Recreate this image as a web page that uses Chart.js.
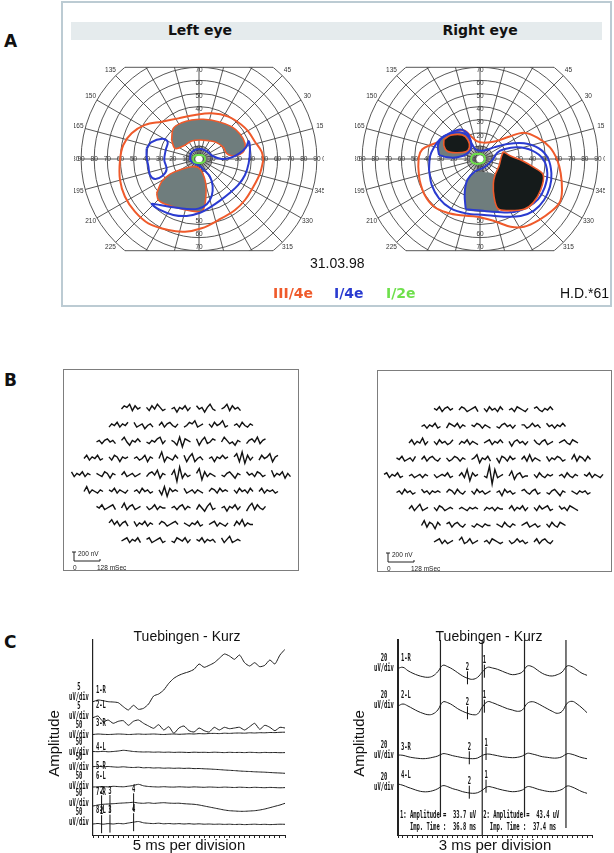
<!DOCTYPE html>
<html>
<head>
<meta charset="utf-8">
<script src="https://cdn.jsdelivr.net/npm/chart.js"></script>
<style>
  html, body { margin: 0; padding: 0; background: #fff; }
  body { position: relative; width: 614px; height: 853px; overflow: hidden; font-family: "Liberation Sans", Arial, sans-serif; color: #111; }
  canvas { position: absolute; }
  .letter { position: absolute; left: 4px; font: bold 17px "DejaVu Sans", sans-serif; }
  #boxA { position: absolute; left: 61px; top: 1px; width: 551px; height: 306px; border: 2px solid #bccbd3; box-sizing: border-box; }
  .bar { position: absolute; left: 71px; top: 22px; width: 531px; height: 18px; background: #e5ebed; }
  .eye { position: absolute; top: 22px; width: 160px; height: 18px; line-height: 18px; text-align: center; font: bold 14px "DejaVu Sans", sans-serif; }
  .txt { position: absolute; font-size: 14px; line-height: 16px; white-space: nowrap; }
  .leg { position: absolute; top: 285px; font: bold 14px "DejaVu Sans", sans-serif; line-height: 16px; }
  .mfbox { position: absolute; border: 1px solid #7d7d7d; box-sizing: border-box; }
</style>
</head>
<body>

<div class="letter" style="top:31px">A</div>
<div id="boxA"></div>
<div class="bar"></div>
<div class="eye" style="left:120px">Left eye</div>
<div class="eye" style="left:400px">Right eye</div>
<canvas id="fieldLeft" width="250" height="210" style="left:74px;top:54px"></canvas>
<canvas id="fieldRight" width="250" height="210" style="left:355px;top:54px"></canvas>
<div class="txt" style="left:310px;top:255px">31.03.98</div>
<div class="leg" style="left:273px;color:#ef5a2b">III/4e</div>
<div class="leg" style="left:334px;color:#2a3bd0">I/4e</div>
<div class="leg" style="left:386px;color:#6ee04c">I/2e</div>
<div class="txt" style="left:560px;top:285px">H.D.*61</div>

<div class="letter" style="top:370px">B</div>
<canvas id="mfLeft" width="236" height="202" style="left:63px;top:369px"></canvas>
<canvas id="mfRight" width="235" height="202" style="left:377px;top:370px"></canvas>
<div class="mfbox" style="left:63px;top:369px;width:236px;height:202px"></div>
<div class="mfbox" style="left:377px;top:370px;width:235px;height:202px"></div>

<div class="letter" style="top:632px">C</div>
<canvas id="ergLeft" width="300" height="225" style="left:0px;top:628px"></canvas>
<canvas id="ergRight" width="314" height="225" style="left:300px;top:628px"></canvas>

<script>
// ---- A: Goldmann fields, points in degrees (x horizontal, y vertical) ----
const leftIII4e = [[49.1,-0.8],[47.8,5.6],[42.7,13.2],[37.7,20.9],[32.6,26],[22.4,32.3],[9.7,34.9],[-3.1,33.6],
  [-15.8,31],[-28.5,28.5],[-41.2,26],[-51.4,19.6],[-57.8,10.7],[-60.3,-0.8],[-60.3,-16],[-56.5,-28.8],
  [-48.9,-40.2],[-38.7,-49.1],[-23.4,-54.2],[-10.7,-55.5],[2,-52.9],[14.8,-46.6],[27.5,-38.9],[35.1,-31.3],
  [41.5,-21.1],[46.6,-10.9]];
const leftI4eTemporal = [[-40,8.1],[-36.6,12.7],[-28,15.5],[-23.9,13],[-25.4,6.9],[-26.5,-0.8],[-24.7,-7.9],
  [-28,-13],[-33.6,-15.3],[-37.4,-12.2],[-38.7,-5.3],[-40,1.8]];
const leftI4eRing = [[-6.9,-0.8],[-6.4,3.8],[-3.1,6.9],[1.5,7.6],[5.9,5.9],[10.4,2.3],[17.3,0],[24.2,1],
  [30.8,4.3],[35.9,8.9],[37.9,13.7],[38.9,6.9],[37.9,-3.3],[35.1,-12.2],[30,-19.8],[23.2,-26.2],[16,-31.8],
  [8.4,-36.9],[0.8,-41],[-9.4,-43.5],[-19.6,-42.7],[-29.8,-38.9],[-36.1,-34.4],[-29.8,-35.1],[-19.6,-36.9],
  [-9.4,-38.2],[-0.5,-37.9],[5.9,-34.6],[9.7,-28.2],[10.4,-20.6],[8.4,-13.5],[3.8,-8.4],[0.3,-5.1],[-4.3,-2.8]];
const leftI2e = [[-4.7,0],[-3.5,2.4],[0,3.1],[3.5,2.4],[4.7,0],[3.5,-2.4],[0,-3.1],[-3.5,-2.4]];
const leftScotomaUpper = [[-20.9,14.5],[-19.6,23.4],[-13.2,27.7],[-5.6,29.8],[3.3,30.3],[14.8,28.5],[24.9,24.7],
  [31.3,19.1],[35.1,12],[34.4,6.4],[31.3,3.6],[24.9,2.5],[21.1,4.3],[18.6,8.9],[13.5,12.5],[7.1,14],
  [0.8,14.5],[-5.6,13.7],[-12,9.9],[-18.3,8.1]];
const leftScotomaLower = [[-32.3,-26.2],[-28.5,-17.3],[-22.1,-11.5],[-13.2,-7.9],[-5.6,-5.9],[-0.5,-6.6],
  [2.8,-10.9],[5.1,-18.6],[5.3,-27.5],[4.1,-36.4],[1.5,-40.2],[-6.9,-39.4],[-17,-37.2],[-26,-34.4],[-31,-31.3]];

const rightIII4e = [[-47.1,-5.9],[-46.6,1.8],[-44,7.4],[-37.7,10.7],[-30,13.7],[-23.7,17.6],[-17.3,21.4],
  [-11.7,21.6],[-7.1,17.6],[-2.5,13.7],[3.1,12.5],[12,13.5],[22.1,17],[33.6,20.1],[43.8,16.3],[53.4,8.9],
  [59,-0.8],[61.6,-10.9],[62.6,-23.7],[61.1,-32.6],[55.2,-39.4],[45,-46.6],[33.6,-51.7],[23.4,-51.7],
  [10.7,-47.3],[-2,-44],[-14.8,-43],[-24.9,-41],[-35.1,-36.4],[-42.2,-27.5],[-46.1,-16]];
const rightI4eOuter = [[-38.9,-8.4],[-38.2,1.8],[-35.1,8.9],[-30.5,15],[-22.4,20.1],[-14.8,22.6],[-9.2,19.1],
  [-6.6,12.5],[-3.3,7.4],[3.1,6.4],[10.7,8.9],[20.9,11.5],[33.6,12],[45,8.1],[51.9,0.5],[54.5,-10.9],
  [53.4,-21.1],[48.9,-31.3],[41.2,-39.4],[31,-43.5],[18.3,-44],[3.1,-42.7],[-10.9,-41.5],[-22.4,-37.7],
  [-31.3,-30],[-36.9,-19.8]];
const rightI4eInnerA = [[-31.3,3.1],[-32.1,10.7],[-28.8,16.5],[-21.1,19.6],[-13.5,20.1],[-8.4,16.5],
  [-6.6,9.9],[-9.7,4.3],[-17.3,1.3],[-24.9,1.3]];
const rightI4eInnerB = [[-10.9,-38.4],[-11.7,-26.2],[-9.7,-16],[-4.1,-9.7],[3.1,-6.4],[9.4,-0.8],[13.2,4.8],
  [18.3,7.4],[28.5,8.9],[39.9,6.4],[48.3,-0.3],[51.4,-10.9],[49.4,-21.6],[44.3,-30.8],[36.1,-36.9],
  [26,-40.5],[13.2,-40.5],[0.5,-39.4]];
const rightRelative = [[-10.9,-39.2],[-11.7,-26.2],[-9.7,-16],[-4.1,-10.4],[3.1,-9.9],[11.5,-12.2],
  [10.2,-18.6],[10.7,-28.8],[13.7,-37.9],[14.5,-40.5],[0.5,-39.9]];
const rightScotomaSmall = [[-27.5,15],[-22.4,18.1],[-13.5,18.3],[-9.2,14.5],[-8.1,8.9],[-10.9,5.6],
  [-18.6,4.8],[-24.9,5.9],[-27.5,9.9]];
const rightScotomaLarge = [[17.8,5.6],[23.4,2.3],[32.3,-1.3],[41.2,-6.4],[48.3,-12.2],[46.3,-23.7],
  [40.7,-33.3],[33.6,-38.4],[20.9,-39.4],[13.7,-37.9],[10.7,-28.8],[10.2,-18.6],[11.5,-12.2],[14.5,-5.3],[16.3,1.8]];
const rightI2e = [[-7,0],[-5.5,3],[-2,3.8],[2,3.5],[3.6,1.5],[3.5,-1.5],[1,-3.2],[-3,-3.7],[-6,-2.5]];

const ringDegrees = [10, 20, 30, 40, 50, 60, 70, 80, 90];
const meridianStep = 15;
const angleLabels = [0, 15, 30, 45, 135, 150, 165, 180, 195, 210, 225, 315, 330, 345];
const verticalLimit = 70;

// ---- B: multifocal ERG traces, rows of the hexagon array (top to bottom) ----
const mfLeft = [
  [[0,2,1,3,-1,2,0,1],[1,-1,2,0,3,1,-1,0],[0,1,-2,1,0,2,-1,1],[2,0,1,-2,1,3,0,-1],[0,1,3,-1,2,0,1,-1]],
  [[-1,1,0,2,-1,1,0,2],[2,-1,0,1,-2,0,1,-1],[0,2,-1,1,2,0,-1,1],[-1,0,2,1,3,-1,0,1],[1,-1,2,0,1,3,-1,0],[0,1,-1,2,0,-1,1,0]],
  [[0,1,-1,1,2,0,1,-1],[1,3,0,-2,1,0,2,0],[0,-1,1,0,2,3,-1,1],[1,0,-2,3,-3,2,1,0],[2,-2,1,3,-1,0,2,1],[0,3,1,-1,0,-2,1,0],[-1,1,2,0,3,-1,1,2]],
  [[0,2,-1,1,0,2,-1,0],[1,-1,2,1,-2,1,0,1],[0,1,-1,0,2,-2,1,0],[0,4,-2,1,0,-1,2,0],[2,-2,1,3,-2,0,1,-1],[0,1,-2,1,0,2,0,1],[1,3,-2,4,-3,2,-1,1],[-1,2,0,1,3,-2,1,2]],
  [[2,-1,1,0,2,-1,1,0],[1,0,-1,2,1,-2,1,0],[0,2,-1,0,1,-1,0,1],[-1,1,2,0,3,-2,1,0],[0,3,-4,5,-2,1,-1,0],[1,4,-3,2,-1,1,0,-1],[0,-1,1,2,0,-2,1,0],[2,0,1,-1,2,1,-1,0],[3,-1,1,0,2,-2,1,-1]],
  [[0,3,-1,1,0,-1,1,0],[1,0,2,-1,1,0,-1,1],[0,1,-1,2,0,1,-1,0],[1,-2,3,-3,2,0,1,0],[2,-1,0,1,-1,1,0,-1],[0,2,1,-1,2,0,1,0],[1,-1,2,0,1,-1,2,0],[0,2,-1,1,0,1,-1,0]],
  [[1,0,2,-1,0,1,2,-1],[0,3,-1,1,2,-1,0,1],[1,-1,0,2,-1,1,0,0],[0,1,-1,1,2,-1,1,0],[-1,2,0,-2,1,3,-1,0],[0,1,-2,1,0,2,-1,1],[-2,1,3,-1,2,0,-1,1]],
  [[1,3,0,2,-1,1,2,-1],[2,-1,1,0,2,-1,1,0],[0,2,1,-1,0,1,2,0],[1,0,-1,1,0,2,-1,0],[0,1,2,-1,1,0,-1,1],[-1,2,0,3,-1,1,0,0]],
  [[0,1,2,-1,1,0,2,-1],[1,2,-1,0,1,2,-1,0],[0,-1,2,1,0,2,-1,1],[1,0,2,-1,1,0,1,-1],[2,-1,1,3,-1,0,1,0]]
];
const mfRight = [
  [[1,0,2,-1,1,2,0,1],[0,2,1,-1,0,1,2,-1],[1,-1,2,0,1,-1,2,0],[0,1,-1,2,1,0,-1,1],[1,2,0,-1,1,0,2,0]],
  [[0,1,-1,1,0,2,-1,0],[-1,2,1,0,2,-1,1,0],[1,0,2,1,-1,1,0,-1],[0,-1,1,2,0,1,-1,1],[1,1,-1,0,2,0,1,-1],[2,0,1,-1,1,0,2,0]],
  [[0,2,-1,1,0,3,-1,1],[1,-1,2,0,1,-1,0,2],[-1,1,0,2,-1,1,0,-1],[0,1,2,-1,1,0,2,0],[1,-2,1,2,0,1,-1,1],[2,0,-1,1,2,-1,0,1],[0,1,2,0,-1,2,1,0]],
  [[1,0,2,-1,0,1,-1,2],[0,2,-1,1,2,0,-1,1],[1,-1,0,2,1,-1,1,0],[0,1,3,-2,1,0,2,-1],[1,-2,2,1,-1,2,0,1],[0,2,-1,3,-1,1,0,-1],[2,-1,1,0,2,1,-1,0],[0,3,-1,2,1,-1,2,0]],
  [[1,2,-1,1,0,2,-1,0],[0,1,-1,0,1,-1,1,0],[1,-1,0,1,0,2,-1,0],[0,2,-1,4,-3,2,0,1],[0,-1,6,-5,4,-1,0,1],[0,3,-2,1,2,-1,0,0],[1,-1,2,0,-1,1,0,1],[0,1,-1,2,0,-1,1,0],[1,0,2,-1,1,0,-1,1]],
  [[0,1,-1,2,0,1,-1,0],[2,0,1,-1,1,0,1,0],[0,2,1,-1,2,0,-1,1],[1,-1,2,0,1,-1,0,1],[0,1,-2,2,0,1,-1,0],[1,2,0,-1,1,2,-1,0],[0,-1,1,2,0,-2,1,0],[1,0,-1,1,0,1,-1,0]],
  [[0,2,-1,1,3,-1,0,1],[1,-1,2,1,-1,0,1,0],[0,1,0,-1,1,0,1,0],[-1,1,0,1,-1,1,0,0],[0,2,-1,1,0,2,-1,1],[1,-1,2,0,1,2,-1,0],[2,0,1,-1,2,1,0,-1]],
  [[0,3,-1,2,1,-2,2,0],[1,2,-1,1,2,0,-1,1],[0,-1,1,0,-1,1,0,0],[1,0,-1,2,0,-1,1,0],[0,1,2,-1,0,1,-1,0],[1,-1,2,0,-1,2,1,0]],
  [[0,1,2,-1,1,-1,0,1],[1,3,-1,0,2,-1,0,1],[0,1,-1,2,1,0,-1,0],[1,-1,0,2,0,1,-1,0],[0,2,-1,1,2,0,-1,1]]
];

// ---- C: ERG sweeps, samples every division (left 5 ms, right 3 ms), level in display units from top ----
const ergLeftStep = 5;
const ergLeftChannels = ['1-R', '2-L', '3-R', '4-L', '5-R', '6-L', '7-R', '8-L'];
const ergLeftGains = ['5', '5', '50', '50', '50', '50', '50', '50'];
const ergLeft1 = [61.7,60,60.7,61.7,62,62.7,66.7,70,65.3,69.3,68.3,64,56,54,50,43.3,38.3,35.3,33.3,31.7,
  29.3,24,27.3,25.3,22.7,18.3,14,16,19.3,15,22.7,26,22.7,26.7,25.3,20,24,15,9.3];
const ergLeft2 = [77.7,76,81.7,80,83.3,81.3,80.7,85.3,81.3,80,83.3,86,88.3,84.7,90,86.7,93.3,88,86,90.7,
  92,88,90.7,92,87.3,90,87.3,88.7,88,87.3,90,86.7,83.3,89.3,85.3,87.3,90.7,87.3,88];
const ergLeft3 = [94.5,94,94.3,94.5,94.3,94,94.2,94.5,94.3,94,94.3,94.2,94,94.3,94.5,94.2,94,94.3,94.1,93.8,
  94,93.6,93.8,93.5,93.4,93.6,93.2,93.4,93.1,93,93.2,92.8,93,92.7,92.8,92.5,92.6,92.3,92.2];
const ergLeft4 = [111.5,111.7,111.3,111.8,111.5,111,110.3,110.8,111.5,111.8,112,111.9,112.2,112,112.3,112.1,112.4,
  112.2,112.3,112.5,112.2,112.4,112.3,112.5,112.2,112.4,112.6,112.3,112.5,112.4,112.6,112.3,112.5,112.7,112.4,112.6,112.5,112.7,112.6];
const ergLeft5 = [126.7,126.3,126.8,126.5,126.9,127.2,126.8,127.3,127.5,127.2,127.8,127.6,128,127.8,128.2,128,128.3,
  128.1,128.4,128.2,128.6,128.5,128.8,129,129.3,129.6,130,130.3,130.6,131,131.3,131.5,131.8,132,132.2,132.5,132.8,133,133.3];
const ergLeft6 = [147,146.8,146.5,146.9,146.3,146.6,146.8,146.2,145.5,144.3,145.8,146.5,146.8,147,146.7,147,147.1,
  146.8,147,147.2,146.9,147.1,147.3,147,147.2,147.4,147.1,147.3,147.5,147.2,147.4,147.6,147.3,147.5,147.7,147.4,147.6,147.8,147.6];
const ergLeft7 = [166,165,164.3,164,163.7,163.3,163,162.7,162.3,163,163.3,162.8,163.4,163,162.7,163.1,163.3,163.2,163.7,164,
  164.3,165,166,167,168,169,170,170.7,171,171.3,171.3,171,170.7,170,169,167.7,166.3,165,163.3];
const ergLeft8 = [184,183.5,184.2,183.6,184,183.4,183.8,183,182.2,181.5,182.8,183.3,183.6,183.2,183.8,183.5,183.9,
  183.6,184,183.7,184.1,183.8,184.2,184,184.3,184.1,184.4,184.2,184.5,184.3,184.6,184.4,184.2,184.5,184.3,184.6,184.4,184.2,184.3];
const ergLeftMarks = [[6, '2', 8.5], [6, '3', 16.8], [6, '4', 40.2], [7, '2', 8.5], [7, '3', 16.8], [7, '4', 40.2]];

const ergRightStep = 3;
const ergRightChannels = ['1-R', '2-L', '3-R', '4-L'];
const ergRightGains = ['20', '20', '20', '20'];
const ergRight1 = [28.3,27.3,30.7,33.3,35.3,36.7,37.3,36,31.7,25.3,26.7,29.3,32.7,36,38.3,39.3,37.3,31.7,27.3,28,
  29.3,31.3,33.3,34.7,34,32,26,26.7,30,33.3,35.3,36,34.7,32,26,26.7,30,33.3,35.3];
const ergRight2 = [66,64,66,68.7,71.3,73.3,74.7,74,70,62,62.7,65.3,68.7,71.3,73.3,74.7,74,66.7,61.7,62.7,
  64.7,66.7,68.7,70,71.3,70,63.3,61.7,63.3,66,68.7,71.3,73.3,71.3,63.3,61.3,64,68,72.7];
const ergRight3 = [115,115.3,116.7,117.7,118.3,118.7,118.3,117.3,116,113.7,114.3,115.7,116.7,117.7,118.3,118.7,118,
  115.3,114,114.7,115.7,116.7,117.3,117.7,117.3,116,113.3,114,115.3,116.7,117.3,118,118,116.7,113.7,114.3,116,117.7,118.7];
const ergRight4 = [144,145.3,147.3,149,150.7,151.7,151.7,150.7,148.7,145.7,146.7,148.7,150,151.7,152.7,153.3,152.7,
  150,146.7,147.3,148.7,150,151,151.7,151.3,150,146.7,147.3,149,150.3,151.3,151.7,151,149.3,146,147,149.3,151.7,153.3];
const ergRightStimuli = [25.6, 50.8, 76.3, 101.3];
const ergRightMarks = [[0, '2', 41.9], [0, '1', 52.1], [1, '2', 41.9], [1, '1', 52.1],
  [2, '2', 43], [2, '1', 53.1], [3, '2', 43], [3, '1', 53.1]];
const ergRightNotes = [['1: Amplitude =  33.7 uV', '   Imp. Time :  36.8 ms'], ['2: Amplitude =  43.4 uV', '  Imp. Time :  37.4 ms']];

const RED = '#ef5a2b', BLUE = '#2a3bd0', GREEN = '#6ee04c', GREY = '#6f7d7d', DARK = '#151b1b';

Chart.defaults.font.family = '"Liberation Sans", Arial, sans-serif';
Chart.defaults.color = '#111';

const quiet = { legend: { display: false }, tooltip: { enabled: false } };

// polar perimeter grid drawn from the x/y scales
const polarGrid = {
  id: 'polarGrid',
  beforeDatasetsDraw(chart) {
    const { ctx, scales: { x, y } } = chart;
    const cx = x.getPixelForValue(0), cy = y.getPixelForValue(0);
    const k = x.getPixelForValue(1) - cx;
    const top = y.getPixelForValue(verticalLimit), bottom = y.getPixelForValue(-verticalLimit);
    const outer = ringDegrees[ringDegrees.length - 1];
    ctx.save();
    ctx.beginPath();
    ctx.rect(0, top, chart.width, bottom - top);
    ctx.clip();
    ctx.strokeStyle = '#444';
    ctx.lineWidth = 0.9;
    ringDegrees.forEach(r => {
      ctx.beginPath();
      ctx.arc(cx, cy, r * k, 0, Math.PI * 2);
      ctx.stroke();
    });
    for (let a = 0; a < 360; a += meridianStep) {
      const t = a * Math.PI / 180;
      ctx.beginPath();
      ctx.moveTo(cx + Math.cos(t) * 3 * k, cy - Math.sin(t) * 3 * k);
      ctx.lineTo(cx + Math.cos(t) * outer * k, cy - Math.sin(t) * outer * k);
      ctx.stroke();
    }
    ctx.lineWidth = 0.5;
    for (let a = 0; a < 360; a += 5) {
      const t = a * Math.PI / 180;
      ctx.beginPath();
      ctx.moveTo(cx + Math.cos(t) * 3 * k, cy - Math.sin(t) * 3 * k);
      ctx.lineTo(cx + Math.cos(t) * 10 * k, cy - Math.sin(t) * 10 * k);
      ctx.stroke();
    }
    ctx.restore();

    // flat top and bottom edges
    const half = Math.sqrt(outer * outer - verticalLimit * verticalLimit) * k;
    ctx.save();
    ctx.strokeStyle = '#444';
    ctx.lineWidth = 0.9;
    [top, bottom].forEach(py => {
      ctx.beginPath();
      ctx.moveTo(cx - half, py);
      ctx.lineTo(cx + half, py);
      ctx.stroke();
    });
    ctx.fillStyle = '#333';
    ctx.font = '6.5px "Liberation Sans"';
    ctx.textAlign = 'center';
    ctx.textBaseline = 'middle';
    ringDegrees.forEach(r => {
      ctx.fillText(String(r), cx - r * k, cy);
      ctx.fillText(String(r), cx + r * k, cy);
      if (r <= verticalLimit) {
        ctx.fillText(String(r), cx, cy - r * k + 3);
        ctx.fillText(String(r), cx, cy + r * k - 3);
      }
    });
    angleLabels.forEach(a => {
      const t = a * Math.PI / 180;
      ctx.fillText(String(a), cx + Math.cos(t) * 95.5 * k, cy - Math.sin(t) * 95.5 * k);
    });
    ctx.restore();
  }
};

function contour(points, color, extra) {
  const data = points.map(p => ({ x: p[0], y: p[1] }));
  data.push({ x: points[0][0], y: points[0][1] });
  return Object.assign({
    data, showLine: true, borderColor: color, borderWidth: 2,
    pointRadius: 0, tension: 0.35, fill: false
  }, extra || {});
}

const pxPerDeg = 1.31;

function fieldChart(id, datasets) {
  const el = document.getElementById(id);
  const hw = el.width / 2 / pxPerDeg, hh = el.height / 2 / pxPerDeg;
  return new Chart(el, {
    type: 'scatter',
    data: { datasets },
    options: {
      responsive: false, animation: false, events: [],
      layout: { padding: 0 },
      plugins: quiet,
      scales: {
        x: { type: 'linear', display: false, min: -hw, max: hw },
        y: { type: 'linear', display: false, min: -hh, max: hh }
      }
    },
    plugins: [polarGrid]
  });
}

fieldChart('fieldLeft', [
  contour(leftI2e, GREEN, { tension: 0.5 }),
  contour(leftI4eTemporal, BLUE),
  contour(leftI4eRing, BLUE, { tension: 0.3 }),
  contour(leftIII4e, RED),
  contour(leftScotomaUpper, RED, { fill: 'shape', backgroundColor: GREY, borderWidth: 1.6 }),
  contour(leftScotomaLower, RED, { fill: 'shape', backgroundColor: GREY, borderWidth: 1.6 })
]);

fieldChart('fieldRight', [
  contour(rightI2e, GREEN, { tension: 0.5 }),
  contour(rightScotomaSmall, RED, { fill: 'shape', backgroundColor: DARK, borderWidth: 1.6 }),
  contour(rightScotomaLarge, RED, { fill: 'shape', backgroundColor: DARK, borderWidth: 1.6 }),
  contour(rightI4eOuter, BLUE),
  contour(rightI4eInnerA, BLUE, { fill: 'shape', backgroundColor: GREY }),
  contour(rightI4eInnerB, BLUE),
  contour(rightRelative, GREY, { fill: 'shape', backgroundColor: GREY, borderWidth: 0 }),
  contour(rightIII4e, RED)
]);

// ---- B ----
const mfTop = 40, mfRowGap = 16.5, mfPitch = 25, mfTraceW = 19, mfGain = 1.6;

const mfScaleBar = {
  id: 'mfScaleBar',
  afterDatasetsDraw(chart) {
    const { ctx, scales: { x, y } } = chart;
    const x0 = x.getPixelForValue(11), x1 = x.getPixelForValue(37);
    const yTop = y.getPixelForValue(183), yBase = y.getPixelForValue(192);
    ctx.save();
    ctx.strokeStyle = '#222';
    ctx.lineWidth = 1;
    ctx.beginPath();
    ctx.moveTo(x0 - 2, yTop); ctx.lineTo(x0 + 2, yTop);
    ctx.moveTo(x0, yTop); ctx.lineTo(x0, yBase); ctx.lineTo(x1, yBase); ctx.lineTo(x1, yBase - 2);
    ctx.stroke();
    ctx.fillStyle = '#222';
    ctx.font = '6.5px "Liberation Sans"';
    ctx.textBaseline = 'middle';
    ctx.fillText('200 nV', x0 + 4, yTop + 2);
    ctx.fillText('0', x0 - 1, yBase + 7);
    ctx.fillText('128 mSec', x1 - 3, yBase + 7);
    ctx.restore();
  }
};

function mfChart(id, rows, centre) {
  const el = document.getElementById(id);
  const datasets = [];
  rows.forEach((row, r) => {
    const rowY = mfTop + r * mfRowGap;
    const x0 = centre - row.length * mfPitch / 2 + (mfPitch - mfTraceW) / 2;
    row.forEach((trace, c) => {
      const step = mfTraceW / (trace.length - 1);
      datasets.push({
        data: trace.map((v, i) => ({ x: x0 + c * mfPitch + i * step, y: rowY - v * mfGain })),
        showLine: true, borderColor: '#111', borderWidth: 1.4, pointRadius: 0, tension: 0
      });
    });
  });
  return new Chart(el, {
    type: 'scatter',
    data: { datasets },
    options: {
      responsive: false, animation: false, events: [],
      layout: { padding: 0 },
      plugins: quiet,
      scales: {
        x: { type: 'linear', display: false, min: 0, max: el.width },
        y: { type: 'linear', display: false, min: 0, max: el.height, reverse: true }
      }
    },
    plugins: [mfScaleBar]
  });
}

mfChart('mfLeft', mfLeft, 118);
mfChart('mfRight', mfRight, 116.5);

// ---- C ----
function ergText(cfg) {
  return {
    id: 'ergText',
    afterDatasetsDraw(chart) {
      const { ctx, chartArea: a, scales: { x, y } } = chart;
      const mono = (txt, px, py, align) => {
        ctx.save();
        ctx.translate(px, py);
        ctx.scale(0.55, 1);
        ctx.font = 'bold 10px "DejaVu Sans Mono"';
        ctx.textAlign = align;
        ctx.textBaseline = 'middle';
        ctx.fillText(txt, 0, 0);
        ctx.restore();
      };
      ctx.save();
      ctx.fillStyle = '#111';
      ctx.strokeStyle = '#111';
      ctx.font = '14px "Liberation Sans"';
      ctx.textAlign = 'center';
      ctx.textBaseline = 'middle';
      ctx.fillText('Tuebingen - Kurz', (a.left + a.right) / 2 + cfg.titleShift, a.top - 3);
      ctx.save();
      ctx.translate(a.left - 38, (a.top + a.bottom) / 2 + 6);
      ctx.rotate(-Math.PI / 2);
      ctx.font = '15px "Liberation Sans"';
      ctx.fillText('Amplitude', 0, 0);
      ctx.restore();
      cfg.channels.forEach((name, i) => mono(name, a.left + 3, y.getPixelForValue(cfg.channelY[i]), 'left'));
      cfg.gains.forEach((g, i) => {
        const m = y.getPixelForValue(cfg.gainY[i]);
        mono(g, a.left - 14, m - 5, 'center');
        mono('uV/div', a.left - 14, m + 5, 'center');
      });
      ctx.lineWidth = 1;
      cfg.marks.forEach(([ch, label, t]) => {
        const tr = cfg.traces[ch];
        const v = tr[Math.round(t / cfg.step)];
        const px = x.getPixelForValue(t);
        ctx.beginPath();
        ctx.moveTo(px, y.getPixelForValue(v - cfg.markUp));
        ctx.lineTo(px, y.getPixelForValue(v + cfg.markDown));
        ctx.stroke();
        mono(label, px, y.getPixelForValue(v - cfg.markUp - 4), 'center');
      });
      (cfg.notes || []).forEach((col, i) => {
        const px = i === 0 ? a.left + 2 : x.getPixelForValue(ergRightStimuli[1]) + 1;
        mono(col[0], px, a.bottom - 20, 'left');
        mono(col[1], px, a.bottom - 8, 'left');
      });
      ctx.restore();
    }
  };
}

function ergChart(id, cfg) {
  const el = document.getElementById(id);
  const datasets = cfg.traces.map(tr => ({
    data: tr.map((v, i) => ({ x: i * cfg.step, y: v })),
    showLine: true, borderColor: '#1c1c1c', borderWidth: 1, pointRadius: 0, tension: cfg.tension
  }));
  (cfg.stimuli || []).forEach((t, i) => datasets.push({
    data: [{ x: t, y: 0 }, { x: t, y: cfg.stimulusEnds[i] }],
    showLine: true, borderColor: '#222', borderWidth: 1.2, pointRadius: 0
  }));
  return new Chart(el, {
    type: 'scatter',
    data: { datasets },
    options: {
      responsive: false, animation: false, events: [],
      layout: { padding: { left: cfg.padLeft, right: cfg.padRight, top: 12, bottom: 0 } },
      plugins: quiet,
      scales: {
        x: {
          type: 'linear', min: 0, max: cfg.xMax,
          border: { color: '#222', width: 1 },
          grid: { drawOnChartArea: false, drawTicks: true, tickLength: 3, color: '#222' },
          ticks: { display: false, stepSize: cfg.step, maxTicksLimit: 100 },
          title: { display: true, text: cfg.xTitle, color: '#111', font: { size: 15, lineHeight: 1 }, padding: { top: 0, bottom: 0 } }
        },
        y: {
          type: 'linear', min: 0, max: 195, reverse: true,
          border: { color: '#222', width: cfg.axisWidth },
          grid: { display: false },
          ticks: { display: false }
        }
      }
    },
    plugins: [ergText(cfg)]
  });
}

ergChart('ergLeft', {
  traces: [ergLeft1, ergLeft2, ergLeft3, ergLeft4, ergLeft5, ergLeft6, ergLeft7, ergLeft8],
  step: ergLeftStep, xMax: 190, tension: 0.2,
  xTitle: '5 ms per division', padLeft: 85, padRight: 15, axisWidth: 1.2, titleShift: -2,
  channels: ergLeftChannels, channelY: [50, 65, 83, 107, 126, 136, 152, 170],
  gains: ergLeftGains, gainY: [52.5, 71, 90, 107, 122, 141, 158, 177.5],
  marks: ergLeftMarks, markUp: 9, markDown: 9
});

ergChart('ergRight', {
  traces: [ergRight1, ergRight2, ergRight3, ergRight4],
  step: ergRightStep, xMax: 117, tension: 0.4,
  stimuli: ergRightStimuli, stimulusEnds: [177, 195, 177, 188],
  xTitle: '3 ms per division', padLeft: 90, padRight: 22, axisWidth: 2, titleShift: -6,
  channels: ergRightChannels, channelY: [18, 55, 107, 135],
  gains: ergRightGains, gainY: [23, 60, 110, 142],
  marks: ergRightMarks, markUp: 7, markDown: 6,
  notes: ergRightNotes
});
</script>
</body>
</html>
